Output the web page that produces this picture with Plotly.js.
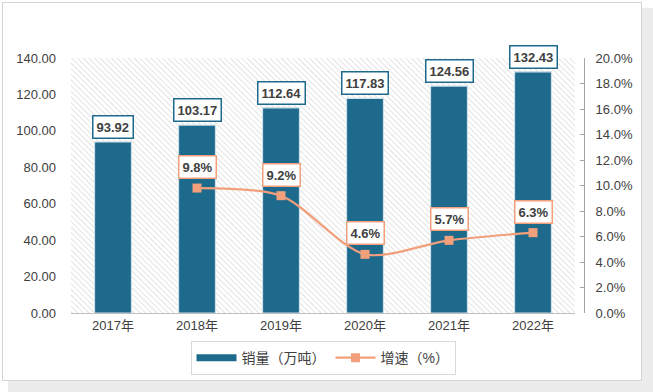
<!DOCTYPE html>
<html>
<head>
<meta charset="utf-8">
<script src="https://cdn.plot.ly/plotly-3.0.1.min.js"></script>
<style>
html,body{margin:0;padding:0;background:#ffffff;}
#bg{position:absolute;left:8px;top:8px;width:645px;height:384px;background:#ececec;}
#card{position:absolute;left:2px;top:2px;width:638px;height:377px;background:#ffffff;border:1px solid #d4d4d4;}
#chart{position:absolute;left:0;top:0;width:653px;height:392px;}
</style>
</head>
<body>
<div id="bg"></div>
<div id="card"></div>
<div id="chart"></div>
<script>
const years = ['2017年','2018年','2019年','2020年','2021年','2022年'];
const sales = [93.92, 103.17, 112.64, 117.83, 124.56, 132.43];
const growthYears = ['2018年','2019年','2020年','2021年','2022年'];
const growth = [9.8, 9.2, 4.6, 5.7, 6.3];
const salesName = '销量（万吨）';
const growthName = '增速（%）';

const barColor = '#1d6a8d';
const lineColor = '#f2a07b';
const font = 'Liberation Sans, Noto Sans CJK SC, sans-serif';

const hatch = "<svg xmlns='http://www.w3.org/2000/svg' width='504' height='255'>" +
  "<defs><pattern id='p' width='4' height='4' patternUnits='userSpaceOnUse' patternTransform='rotate(-45)'>" +
  "<line x1='0' y1='0' x2='0' y2='4' stroke='#cccccc' stroke-width='1.1'/></pattern></defs>" +
  "<rect width='504' height='255' fill='url(#p)'/></svg>";
const hatchUri = 'data:image/svg+xml;base64,' + btoa(hatch);

const traces = [
  {
    type: 'bar', x: years, y: sales, name: salesName, showlegend: false,
    marker: {color: barColor, line: {color: '#cfe0ea', width: 1.2}},
    width: 0.44, hoverinfo: 'skip'
  },
  {
    type: 'scatter', mode: 'lines', x: [null], y: [null], name: salesName,
    line: {color: barColor, width: 7}, hoverinfo: 'skip'
  },
  {
    type: 'scatter', mode: 'lines+markers', x: growthYears, y: growth, name: growthName,
    yaxis: 'y2',
    line: {color: lineColor, width: 2.2, shape: 'spline', smoothing: 0.8},
    marker: {symbol: 'square', size: 9, color: lineColor},
    hoverinfo: 'skip'
  }
];

const annotations = [];
years.forEach((yr, i) => {
  annotations.push({
    x: yr, y: sales[i], xref: 'x', yref: 'y', text: sales[i].toFixed(2),
    showarrow: false, yshift: 15,
    font: {family: font, size: 13, color: '#404040', weight: 'bold'},
    bgcolor: '#ffffff', bordercolor: barColor, borderwidth: 1.5, borderpad: 3
  });
});
growthYears.forEach((yr, i) => {
  annotations.push({
    x: yr, y: growth[i], xref: 'x', yref: 'y2', text: growth[i].toFixed(1) + '%',
    showarrow: false, yshift: 21,
    font: {family: font, size: 13, color: '#404040', weight: 'bold'},
    bgcolor: '#ffffff', bordercolor: lineColor, borderwidth: 1.5, borderpad: 3
  });
});

const layout = {
  width: 653, height: 392,
  margin: {l: 71, r: 78, t: 58, b: 79},
  paper_bgcolor: 'rgba(0,0,0,0)',
  plot_bgcolor: 'rgba(0,0,0,0)',
  font: {family: font, size: 13, color: '#404040'},
  showlegend: true,
  xaxis: {
    type: 'category', range: [-0.5, 5.5],
    showline: true, linecolor: '#bfbfbf', linewidth: 1,
    ticks: '', showgrid: false, zeroline: false,
    tickfont: {family: font, size: 13, color: '#404040'}
  },
  yaxis: {
    range: [0, 140], dtick: 20, tickformat: '.2f',
    showgrid: false, zeroline: false, showline: false, ticks: '',
    ticklabelstandoff: 14,
    tickfont: {family: font, size: 13, color: '#404040'}
  },
  yaxis2: {
    overlaying: 'y', side: 'right', anchor: 'free', position: 1, shift: 9,
    range: [0, 20], dtick: 2, tickformat: '.1f', ticksuffix: '%',
    showgrid: false, zeroline: false,
    showline: true, linecolor: '#a6a6a6', linewidth: 1,
    ticks: 'inside', ticklen: 4, tickcolor: '#a6a6a6',
    ticklabelstandoff: 8,
    tickfont: {family: font, size: 13, color: '#404040'}
  },
  legend: {
    orientation: 'h', x: 0.5, xanchor: 'center', y: -0.11, yanchor: 'top',
    bordercolor: '#d9d9d9', borderwidth: 1, bgcolor: '#ffffff',
    font: {family: font, size: 14, color: '#404040'},
    itemwidth: 40, traceorder: 'normal', tracegroupgap: 0
  },
  images: [{
    source: hatchUri, xref: 'paper', yref: 'paper', x: 0, y: 1,
    sizex: 1, sizey: 1, sizing: 'stretch', layer: 'below',
    xanchor: 'left', yanchor: 'top'
  }],
  annotations: annotations
};

Plotly.newPlot('chart', traces, layout, {displayModeBar: false, staticPlot: true});
</script>
</body>
</html>
